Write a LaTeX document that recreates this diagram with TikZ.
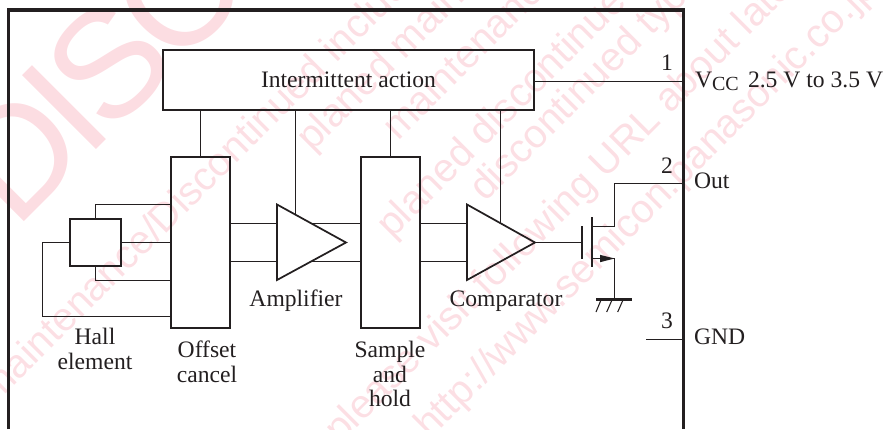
\documentclass[tikz,border=0pt]{standalone}
\usepackage{fontspec}
\setmainfont{Liberation Serif}
\newfontfamily\wmfont{Liberation Sans}
\newfontfamily\wmbigfont[LetterSpace=-6]{Liberation Sans}
\definecolor{ink}{HTML}{231F20}
\definecolor{wmpink}{HTML}{FCDFE4}
\definecolor{wmbig}{HTML}{FCDDE2}
\tikzset{
  x=0.75pt,y=-0.75pt,
  pkgframe/.style={draw=ink,line width=2.5pt,line cap=butt,line join=miter},
  blockbox/.style={draw=ink,line width=1.3pt,inner sep=0pt,outer sep=0pt},
  wire/.style={draw=ink,line width=0.75pt},
  amptri/.style={draw=ink,line width=1.3pt,line join=miter},
  thickbar/.style={draw=ink,line width=2pt},
  hash/.style={draw=ink,line width=0.8pt},
  lab/.style={text=ink,font=\fontsize{17.7}{18.4}\selectfont,inner sep=0pt,outer sep=0pt,align=center},
  wm/.style={text=wmpink,font=\wmfont\fontsize{30}{30}\selectfont,rotate=45,anchor=base west,inner sep=0pt},
  wmlarge/.style={text=wmbig,font=\wmbigfont\fontsize{114}{114}\selectfont,rotate=45,anchor=base west,inner sep=0pt},
}
\begin{document}
\begin{tikzpicture}
\useasboundingbox (0,0) rectangle (885,429);
\begin{scope}
\clip (0,0) rectangle (885,429);
\node[wmlarge] (wmA) at (15,231) {DISCONTINUED};
\node[wm] (wmB) at (-5,405) {maintenance/Discontinued includes following};
\node[wm] (wmC) at (312,153) {planed maintenance type};
\node[wm] (wmD) at (398,142) {maintenance type};
\node[wm] (wmE) at (392,240) {planed discontinued typed};
\node[wm] (wmF) at (485,203) {discontinued type};
\node[wm] (wmG) at (340,445) {please visit following URL about latest information};
\node[wm] (wmH) at (430,440) {http://www.semicon.panasonic.co.jp};
\end{scope}

% package outline
\coordinate (fa) at (8.3,429);
\coordinate (fb) at (8.3,10);
\coordinate (fc) at (683.3,10);
\coordinate (fd) at (683.3,429);
\draw[pkgframe] (fa) -- (fb) -- (fc) -- (fd);

% blocks
\node[blockbox,lab,draw=ink,minimum width=278.25pt,minimum height=45pt] (im) at (348.5,80) {Intermittent action};
\node[blockbox,minimum width=44.25pt,minimum height=128.6pt] (of) at (200.5,242.5) {};
\node[blockbox,minimum width=43.9pt,minimum height=128.6pt] (sh) at (390.5,242.5) {};
\node[blockbox,minimum width=38.25pt,minimum height=34.9pt] (hall) at (95.5,242.5) {};

% amplifier and comparator
\coordinate (aT) at (277,204.5); \coordinate (aB) at (277,280); \coordinate (aO) at (346,242.5);
\draw[amptri] (aT) -- (aO) -- (aB) -- cycle;
\coordinate (cT) at (467,204.5); \coordinate (cB) at (467,280); \coordinate (cO) at (535,242.5);
\draw[amptri] (cT) -- (cO) -- (cB) -- cycle;

% control lines from the top block
\coordinate (ctlA) at (295.5,214.5);
\coordinate (ctlC) at (500.5,223);
\draw[wire] (im.south -| of.north) -- (of.north);
\draw[wire] (im.south -| ctlA) -- (ctlA);
\draw[wire] (im.south -| sh.north) -- (sh.north);
\draw[wire] (im.south -| ctlC) -- (ctlC);

% hall element wiring
\coordinate (hT) at (171,204.5);
\coordinate (hB) at (171,280.5);
\coordinate (hL) at (42.5,242.5);
\coordinate (hR) at (171,316.5);
\draw[wire] (hall.north) |- (of.west |- hT);
\draw[wire] (hall.east) -- (of.west |- hall.east);
\draw[wire] (hall.south) |- (of.west |- hB);
\draw[wire] (hall.west) -- (hL) |- (of.west |- hR);

% signal path
\coordinate (sA) at (277,223.5);
\coordinate (sB) at (277,261.5);
\coordinate (oA) at (312,223.5);
\coordinate (oB) at (312,261.5);
\coordinate (uA) at (467,223.5);
\coordinate (uB) at (467,261.5);
\draw[wire] (of.east |- sA) -- (sA);
\draw[wire] (of.east |- sB) -- (sB);
\draw[wire] (oA) -- (sh.west |- oA);
\draw[wire] (oB) -- (sh.west |- oB);
\draw[wire] (sh.east |- uA) -- (uA);
\draw[wire] (sh.east |- uB) -- (uB);

% output transistor
\coordinate (gT) at (582,226); \coordinate (gB) at (582,258.5);
\coordinate (chT) at (592,217); \coordinate (chB) at (592,267);
\coordinate (dr) at (592,226.5); \coordinate (drK) at (614.5,226.5);
\coordinate (so) at (592,258.5); \coordinate (soK) at (614.5,258.5);
\coordinate (pin2) at (683,183.5);
\coordinate (gnd) at (614.5,299.5);
\draw[wire] (cO) -- (582,242.5);
\draw[thickbar] (gT) -- (gB);
\draw[thickbar] (chT) -- (chB);
\draw[wire] (dr) -- (drK) |- (pin2);
\draw[wire] (so) -- (soK) -- (gnd);
\fill[ink] (600,254.8) -- (soK) -- (600,262.2) -- cycle;
% ground
\draw[thickbar] (596,299.5) -- (632,299.5);
\draw[hash] (601,300) -- (596,312);
\draw[hash] (612,300) -- (606.7,312);
\draw[hash] (623,300) -- (617.7,312);

% pins
\coordinate (pin1) at (683,81.5);
\coordinate (pin3) at (683,339.5);
\coordinate (pin3i) at (646,339.5);
\draw[wire] (im.east |- pin1) -- (pin1);
\draw[wire] (pin3i) -- (pin3);

% labels
\node[lab] (tHall) at (95,349) {Hall\\[0pt]element};
\node[lab] (tOff) at (207,362) {Offset\\cancel};
\node[lab] (tAmp) at (296,301) {Amplifier};
\node[lab] (tSH) at (390,374) {Sample\\and\\hold};
\node[lab] (tCmp) at (506,301) {Comparator};
\node[lab] (t1) at (667,63) {1};
\node[lab] (t2) at (667,166) {2};
\node[lab] (t3) at (667,321) {3};
\node[lab,anchor=base west] (tV) at (695,87) {V\raisebox{-0.35ex}{\fontsize{15}{15}\selectfont CC}};
\node[lab,anchor=base west] (tR) at (748,87) {2.5 V to 3.5 V};
\node[lab,anchor=base west] (tOut) at (694,188) {Out};
\node[lab,anchor=base west] (tG) at (694,344) {GND};
\end{tikzpicture}
\end{document}
